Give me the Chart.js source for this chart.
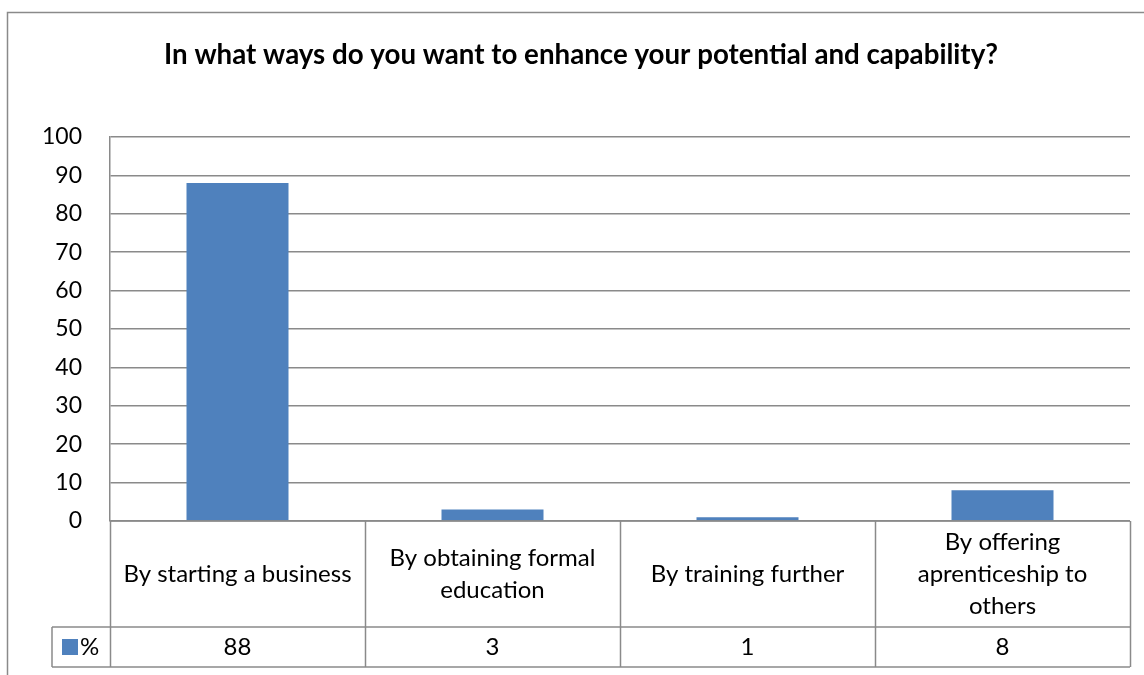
<!DOCTYPE html>
<html>
<head>
<meta charset="utf-8">
<script src="https://cdn.jsdelivr.net/npm/chart.js@4.4.1/dist/chart.umd.min.js"></script>
<style>
  body { margin: 0; background: #fff; }
</style>
</head>
<body>
<canvas id="chart" width="1144" height="675"></canvas>
<script>
// данные
const chartTitle = 'In what ways do you want to enhance your potential and capability?';
const categories = [
  ['By starting a business'],
  ['By obtaining formal', 'education'],
  ['By training further'],
  ['By offering', 'aprenticeship to', 'others']
];
const seriesName = '%';
const percentValues = [88, 3, 1, 8];
const yMin = 0, yMax = 100, yStep = 10;

const FONT = 'Lato';
const LINE = '#8a8a8a';
const BAR = '#4f81bd';

// рамка слева/сверху + таблица данных под графиком
const dataTable = {
  id: 'dataTable',
  beforeDraw(chart) {
    const ctx = chart.ctx;
    ctx.save();
    ctx.strokeStyle = LINE;
    ctx.lineWidth = 1.5;
    ctx.beginPath();
    ctx.moveTo(7.5, 680);
    ctx.lineTo(7.5, 12.5);
    ctx.lineTo(1150, 12.5);
    ctx.stroke();
    ctx.restore();
  },
  afterDraw(chart) {
    const { ctx, chartArea: a, scales: { x } } = chart;
    const n = chart.data.labels.length;
    const colW = (a.right - a.left) / n;
    const top = a.bottom, mid = a.bottom + 106, bot = a.bottom + 146;
    const keyLeft = 52;

    ctx.save();
    ctx.strokeStyle = LINE;
    ctx.lineWidth = 1.5;
    ctx.beginPath();
    ctx.moveTo(a.left, top); ctx.lineTo(a.right, top);
    ctx.moveTo(keyLeft, mid); ctx.lineTo(a.right, mid);
    ctx.moveTo(keyLeft, bot); ctx.lineTo(a.right, bot);
    ctx.moveTo(keyLeft, mid); ctx.lineTo(keyLeft, bot);
    for (let i = 0; i <= n; i++) {
      const px = Math.round(a.left + colW * i) + 0.5;
      ctx.moveTo(px, top); ctx.lineTo(px, bot);
    }
    ctx.stroke();

    ctx.fillStyle = '#000';
    ctx.font = '24px ' + FONT;
    ctx.textAlign = 'center';
    ctx.textBaseline = 'middle';
    const lh = 32;
    chart.data.labels.forEach((lines, i) => {
      const cx = x.getPixelForValue(i);
      const cy = (top + mid) / 2 - (lines.length - 1) * lh / 2;
      lines.forEach((t, k) => ctx.fillText(t, cx, cy + k * lh));
      ctx.fillText(String(chart.data.datasets[0].data[i]), cx, (mid + bot) / 2);
    });

    // легенда в таблице
    const ds = chart.data.datasets[0];
    ctx.fillStyle = ds.backgroundColor;
    ctx.fillRect(62, (mid + bot) / 2 - 8, 16, 16);
    ctx.fillStyle = '#000';
    ctx.textAlign = 'left';
    ctx.fillText(ds.label, 80, (mid + bot) / 2);
    ctx.restore();
  }
};

const ctx = document.getElementById('chart').getContext('2d');
const chart = new Chart(ctx, {
  type: 'bar',
  data: {
    labels: categories,
    datasets: [{
      label: seriesName,
      data: percentValues,
      backgroundColor: BAR,
      barPercentage: 0.4,
      categoryPercentage: 1
    }]
  },
  options: {
    responsive: false,
    animation: false,
    layout: { padding: { left: 32, right: 14, top: 0, bottom: 154 } },
    plugins: {
      legend: { display: false },
      tooltip: { enabled: false },
      title: {
        display: true,
        text: chartTitle,
        color: '#000',
        font: { family: FONT, size: 27.7, weight: 'bold', lineHeight: 1.2 },
        padding: { top: 38.5, bottom: 65.3 }
      }
    },
    scales: {
      x: { display: false },
      y: {
        min: yMin,
        max: yMax,
        afterFit: (scale) => { scale.width = 78; },
        ticks: {
          stepSize: yStep,
          padding: 28,
          color: '#000',
          font: { family: FONT, size: 23 }
        },
        grid: { color: LINE, lineWidth: 1.5, drawTicks: false },
        border: { display: true, color: LINE, width: 1.5 }
      }
    }
  },
  plugins: [dataTable]
});
</script>
</body>
</html>
